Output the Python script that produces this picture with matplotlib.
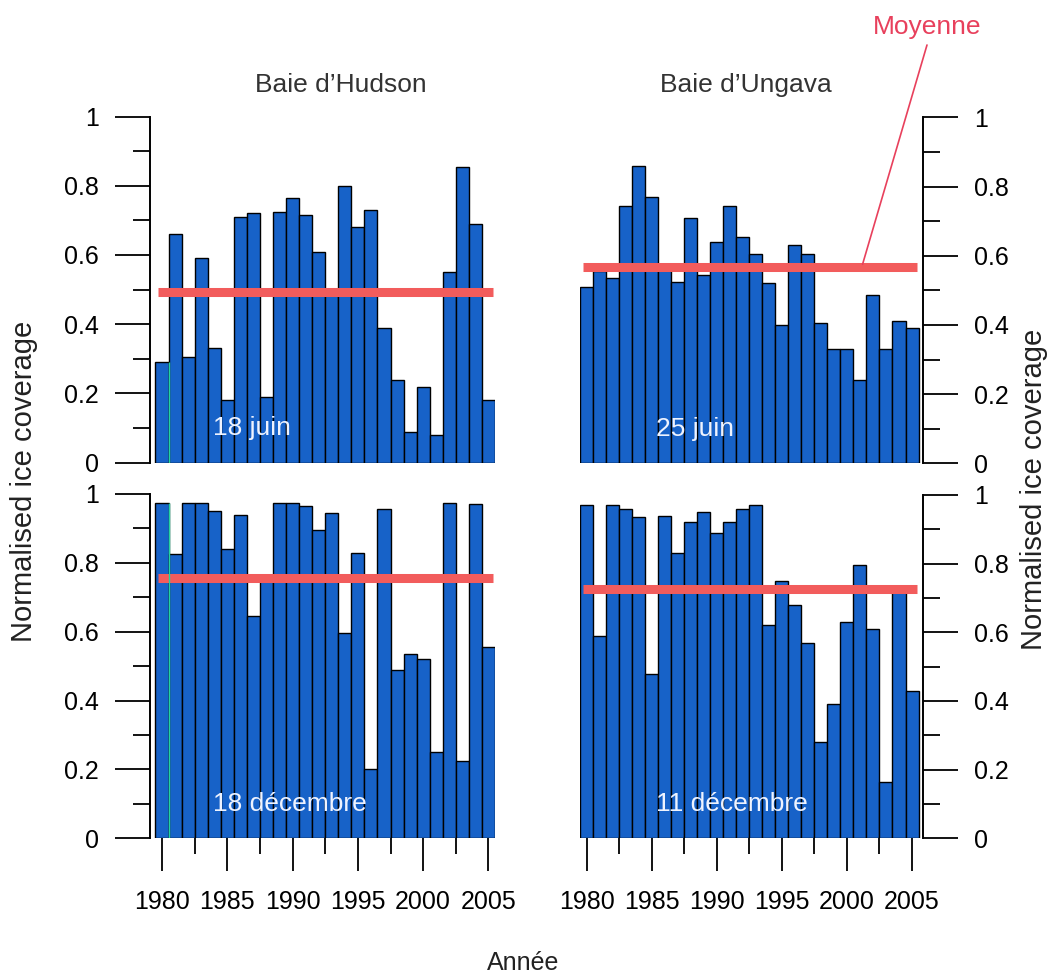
import numpy as np
import matplotlib
matplotlib.use('Agg')
import matplotlib.pyplot as plt
from matplotlib.ticker import MultipleLocator, FixedLocator

years = np.arange(1980, 2006)

hudson_juin = [0.29, 0.66, 0.305, 0.59, 0.33, 0.18, 0.71, 0.72, 0.19, 0.725, 0.765, 0.715, 0.61,
               0.49, 0.80, 0.68, 0.73, 0.39, 0.24, 0.09, 0.22, 0.08, 0.55, 0.855, 0.69, 0.18]
ungava_juin = [0.51, 0.555, 0.535, 0.745, 0.86, 0.77, 0.56, 0.525, 0.71, 0.545, 0.64, 0.745, 0.655,
               0.605, 0.52, 0.40, 0.63, 0.605, 0.405, 0.33, 0.33, 0.24, 0.485, 0.33, 0.41, 0.39]
hudson_dec = [0.975, 0.825, 0.975, 0.975, 0.95, 0.84, 0.94, 0.645, 0.765, 0.975, 0.975, 0.965, 0.895,
              0.945, 0.595, 0.83, 0.20, 0.955, 0.49, 0.535, 0.52, 0.25, 0.975, 0.225, 0.97, 0.555]
ungava_dec = [0.97, 0.59, 0.97, 0.96, 0.935, 0.48, 0.94, 0.83, 0.92, 0.95, 0.89, 0.92, 0.96,
              0.97, 0.62, 0.75, 0.68, 0.57, 0.28, 0.39, 0.63, 0.795, 0.61, 0.165, 0.73, 0.43]

means = {'hj': 0.493, 'uj': 0.566, 'hd': 0.757, 'ud': 0.726}
dates = ['18 juin', '25 juin', '18 décembre', '11 décembre']
titles = ['Baie d\u2019Hudson', 'Baie d\u2019Ungava']
ylab = 'Normalised ice coverage'

BAR = '#1762c8'
RED = '#f25c5c'
W = 1049
H = 977
plt.rcParams['font.family'] = ['Liberation Sans', 'DejaVu Sans']

fig = plt.figure(figsize=(W / 100, H / 100), dpi=100)


def px_axes(x0, x1, ytop, ybot):
    return fig.add_axes([x0 / W, 1 - ybot / H, (x1 - x0) / W, (ybot - ytop) / H])


ax_hj = px_axes(150, 495, 116.5, 462.7)
ax_uj = px_axes(580, 922.7, 117.3, 463.3)
ax_hd = px_axes(150, 495, 494, 838.3)
ax_ud = px_axes(580, 922.7, 495, 838.3)

panels = [
    (ax_hj, hudson_juin, means['hj'], dates[0], 'left', False),
    (ax_uj, ungava_juin, means['uj'], dates[1], 'right', False),
    (ax_hd, hudson_dec, means['hd'], dates[2], 'left', True),
    (ax_ud, ungava_dec, means['ud'], dates[3], 'right', True),
]

for ax, vals, m, lab, side, bottom in panels:
    ax.bar(years, vals, width=1.0, color=BAR, edgecolor='black', linewidth=1.0, zorder=2)
    ax.hlines(m, 1979.7, 2005.35, color=RED, linewidth=6.5, zorder=3)
    ax.set_ylim(0, 1)
    if side == 'left':
        ax.set_xlim(1979.08, 2005.5)
        # thin green scan streak next to the first bar
        ax.vlines(1980.5, 0, vals[0], color='#22d3a0', linewidth=1.0, zorder=3)
        ax.text(1983.9, 0.1, lab, color='#eef3ff', fontsize=19, ha='left', va='center', zorder=4)
    else:
        ax.set_xlim(1979.5, 2005.82)
        ax.text(1985.3, 0.1, lab, color='#eef3ff', fontsize=19, ha='left', va='center', zorder=4)
        ax.yaxis.tick_right()
        ax.yaxis.set_label_position('right')
    for s in ['top', 'bottom', 'left', 'right']:
        ax.spines[s].set_visible(False)
    ax.spines[side].set_visible(True)
    ax.spines[side].set_linewidth(1.4)
    ax.yaxis.set_major_locator(MultipleLocator(0.2))
    ax.yaxis.set_minor_locator(FixedLocator([0.1, 0.3, 0.5, 0.7, 0.9]))
    ax.set_yticks([0, 0.2, 0.4, 0.6, 0.8, 1.0])
    ax.set_yticklabels(['0', '0.2', '0.4', '0.6', '0.8', '1'])
    ax.tick_params(axis='y', which='major', length=25, width=1.3, pad=12, labelsize=18)
    ax.tick_params(axis='y', which='minor', length=12.5, width=1.3)
    if bottom:
        ax.set_xticks([1980, 1985, 1990, 1995, 2000, 2005])
        ax.xaxis.set_minor_locator(FixedLocator([1982.5, 1987.5, 1992.5, 1997.5, 2002.5]))
        ax.tick_params(axis='x', which='major', length=24, width=1.3, pad=13, labelsize=18)
        ax.tick_params(axis='x', which='minor', length=11.5, width=1.3)
    else:
        ax.set_xticks([])

fig.text(341 / W, 1 - 85 / H, titles[0], fontsize=19, color='#333333', ha='center', va='center')
fig.text(746 / W, 1 - 85 / H, titles[1], fontsize=19, color='#333333', ha='center', va='center')
fig.text(24 / W, 1 - 481 / H, ylab, fontsize=21, rotation=90, ha='center', va='center', color='#222222')
fig.text(1034 / W, 1 - 489 / H, ylab, fontsize=21, rotation=90, ha='center', va='center', color='#222222')
fig.text(523 / W, 1 - 963 / H, 'Année', fontsize=18, ha='center', va='center', color='#222222')

fig.text(927 / W, 1 - 27 / H, 'Moyenne', fontsize=19, color='#e8405c', ha='center', va='center')
ax_uj.annotate('', xy=(2001.2, 0.575), xycoords='data', xytext=(927 / W, 1 - 45 / H),
               textcoords='figure fraction', annotation_clip=False,
               arrowprops=dict(arrowstyle='-', color='#e8405c', lw=1.2, shrinkA=0, shrinkB=0))

fig.savefig('out.png', dpi=100, facecolor='white')
